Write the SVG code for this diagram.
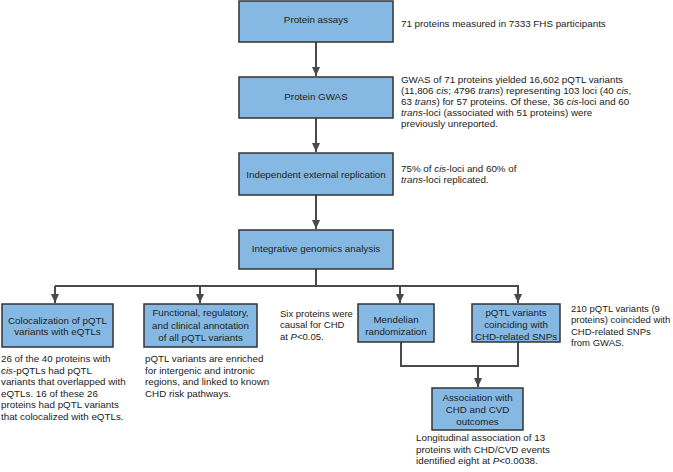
<svg xmlns="http://www.w3.org/2000/svg" width="673" height="472" viewBox="0 0 673 472">
<defs>
<marker id="ah" markerWidth="9" markerHeight="8" refX="9" refY="4" orient="auto" markerUnits="userSpaceOnUse" viewBox="0 0 9 8">
<path d="M0,0 L9,4 L0,8 Z" fill="#4a4a4a"/>
</marker>
</defs>
<style>
.box{fill:#85b9e4;stroke:#333;stroke-width:1.5}
.lbl{font-family:"Liberation Sans",Arial,sans-serif;font-size:9.8px;fill:#222;text-anchor:middle}
.txt{font-family:"Liberation Sans",Arial,sans-serif;font-size:9.8px;fill:#222}
.sm{font-size:9.5px}
.ln{fill:none;stroke:#4a4a4a;stroke-width:2}
</style>
<rect width="673" height="472" fill="#fff"/>
<g id="connectors">
<path class="ln" d="M316,42 V76" marker-end="url(#ah)"/>
<path class="ln" d="M316,118 V152" marker-end="url(#ah)"/>
<path class="ln" d="M316,195 V229" marker-end="url(#ah)"/>
<path class="ln" d="M316,269 V286"/>
<path class="ln" d="M55,286 H519"/>
<path class="ln" d="M55,286 V303" marker-end="url(#ah)"/>
<path class="ln" d="M200,286 V303" marker-end="url(#ah)"/>
<path class="ln" d="M400,286 V303" marker-end="url(#ah)"/>
<path class="ln" d="M518,286 V303" marker-end="url(#ah)"/>
<path class="ln" d="M401,342 V366 H518 V342"/>
<path class="ln" d="M478,366 V387" marker-end="url(#ah)"/>
</g>
<g id="protein-assays">
<rect class="box" x="239" y="1" width="154" height="41"/>
<text class="lbl" x="316" y="23">Protein assays</text>
</g>
<g id="protein-gwas">
<rect class="box" x="239" y="77" width="154" height="41"/>
<text class="lbl" x="316" y="100">Protein GWAS</text>
</g>
<g id="replication">
<rect class="box" x="239" y="153" width="154" height="42"/>
<text class="lbl" x="316" y="177.5">Independent external replication</text>
</g>
<g id="integrative">
<rect class="box" x="239" y="230" width="154" height="39"/>
<text class="lbl" x="316" y="252">Integrative genomics analysis</text>
</g>
<g id="colocalization">
<rect class="box" x="2" y="304" width="111" height="43"/>
<text class="lbl" x="57.5" y="323.5">Colocalization of pQTL</text>
<text class="lbl" x="57.5" y="335">variants with eQTLs</text>
</g>
<g id="functional">
<rect class="box" x="144" y="304" width="113" height="43"/>
<text class="lbl" x="200.5" y="316">Functional, regulatory,</text>
<text class="lbl" x="200.5" y="328.5">and clinical annotation</text>
<text class="lbl" x="200.5" y="341">of all pQTL variants</text>
</g>
<g id="mendelian">
<rect class="box" x="358" y="304" width="76" height="38"/>
<text class="lbl" x="396" y="322.5">Mendelian</text>
<text class="lbl" x="396" y="334.5">randomization</text>
</g>
<g id="pqtl-chd">
<rect class="box" x="472" y="304" width="88" height="38"/>
<text class="lbl" x="516" y="315.5">pQTL variants</text>
<text class="lbl" x="516" y="327.5">coinciding with</text>
<text class="lbl" x="516" y="339.5">CHD-related SNPs</text>
</g>
<g id="association">
<rect class="box" x="432" y="388" width="91" height="42"/>
<text class="lbl" x="477.5" y="400.5">Association with</text>
<text class="lbl" x="477.5" y="412.5">CHD and CVD</text>
<text class="lbl" x="477.5" y="424.5">outcomes</text>
</g>
<g id="annotations">
<text class="txt" x="401" y="27">71 proteins measured in 7333 FHS participants</text>
<text class="txt" x="401" y="83">GWAS of 71 proteins yielded 16,602 pQTL variants</text>
<text class="txt" x="401" y="94">(11,806 <tspan font-style="italic">cis</tspan>; 4796 <tspan font-style="italic">trans</tspan>) representing 103 loci (40 <tspan font-style="italic">cis</tspan>,</text>
<text class="txt" x="401" y="105">63 <tspan font-style="italic">trans</tspan>) for 57 proteins. Of these, 36 <tspan font-style="italic">cis</tspan>-loci and 60</text>
<text class="txt" x="401" y="116"><tspan font-style="italic">trans</tspan>-loci (associated with 51 proteins) were</text>
<text class="txt" x="401" y="127">previously unreported.</text>
<text class="txt" x="401" y="171.5">75% of <tspan font-style="italic">cis</tspan>-loci and 60% of</text>
<text class="txt" x="401" y="183"><tspan font-style="italic">trans</tspan>-loci replicated.</text>
<text class="txt" x="1" y="362">26 of the 40 proteins with</text>
<text class="txt" x="1" y="373.5"><tspan font-style="italic">cis</tspan>-pQTLs had pQTL</text>
<text class="txt" x="1" y="385">variants that overlapped with</text>
<text class="txt" x="1" y="396.5">eQTLs. 16 of these 26</text>
<text class="txt" x="1" y="408">proteins had pQTL variants</text>
<text class="txt" x="1" y="419.5">that colocalized with eQTLs.</text>
<text class="txt" x="145" y="362">pQTL variants are enriched</text>
<text class="txt" x="145" y="373.5">for intergenic and intronic</text>
<text class="txt" x="145" y="385">regions, and linked to known</text>
<text class="txt" x="145" y="396.5">CHD risk pathways.</text>
<text class="txt sm" x="280" y="316.5">Six proteins were</text>
<text class="txt sm" x="280" y="328">causal for CHD</text>
<text class="txt sm" x="280" y="339.5">at <tspan font-style="italic">P</tspan>&lt;0.05.</text>
<text class="txt sm" x="571" y="311.5">210 pQTL variants (9</text>
<text class="txt sm" x="571" y="323">proteins) coincided with</text>
<text class="txt sm" x="571" y="334.5">CHD-related SNPs</text>
<text class="txt sm" x="571" y="346">from GWAS.</text>
<text class="txt" x="416" y="441">Longitudinal association of 13</text>
<text class="txt" x="416" y="452.5">proteins with CHD/CVD events</text>
<text class="txt" x="416" y="464">identified eight at <tspan font-style="italic">P</tspan>&lt;0.0038.</text>
</g>
</svg>
